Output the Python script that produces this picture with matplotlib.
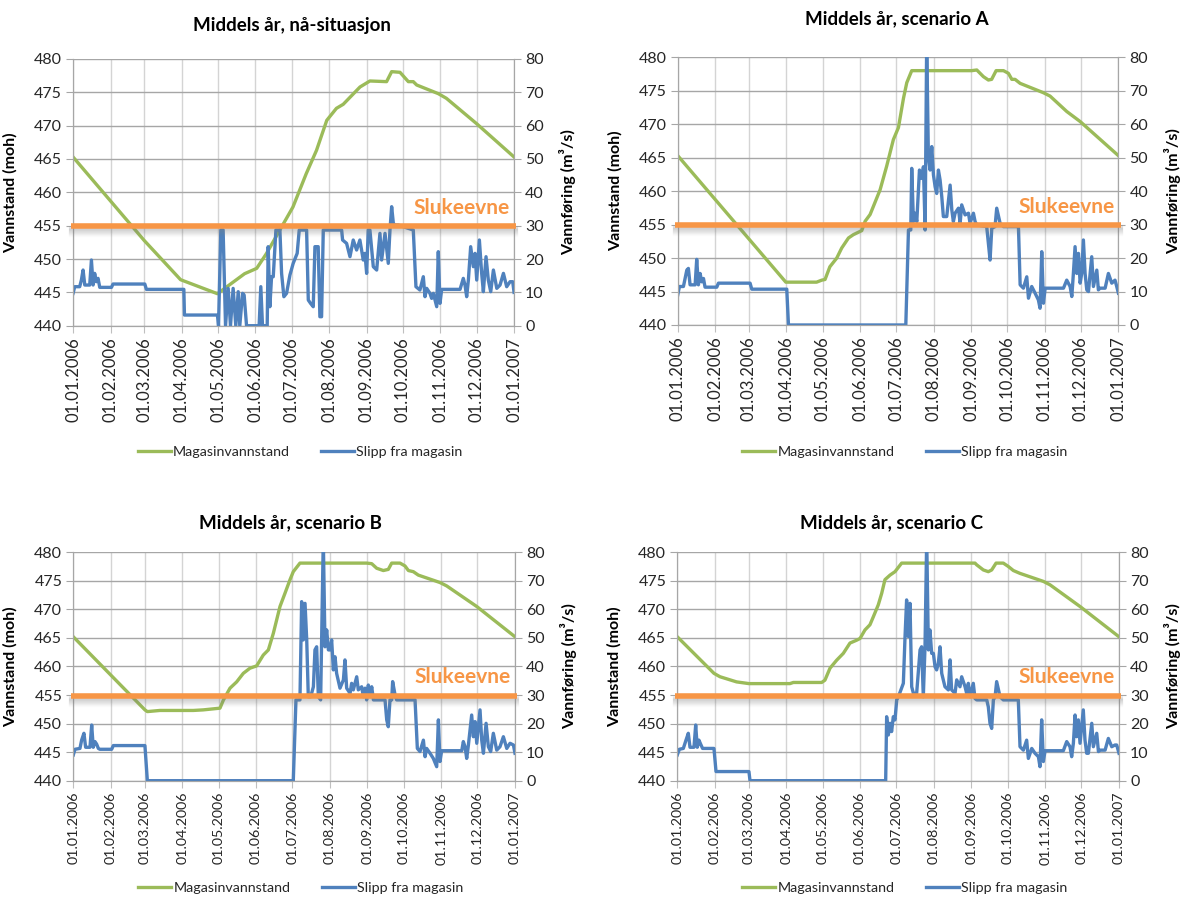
import matplotlib
matplotlib.use("Agg")
import matplotlib.pyplot as plt
import matplotlib.transforms as mtransforms

plt.rcParams['font.family'] = ['Lato', 'DejaVu Sans']

# ---------------- data ----------------
month_days = [0, 31, 59, 90, 120, 151, 181, 212, 243, 273, 304, 334, 365]
month_labels = ["01.01.2006", "01.02.2006", "01.03.2006", "01.04.2006", "01.05.2006",
                "01.06.2006", "01.07.2006", "01.08.2006", "01.09.2006", "01.10.2006",
                "01.11.2006", "01.12.2006", "01.01.2007"]
titles = ["Middels år, nå-situasjon", "Middels år, scenario A",
          "Middels år, scenario B", "Middels år, scenario C"]
series_names = ["Magasinvannstand", "Slipp fra magasin"]
slukeevne_label = "Slukeevne"
slukeevne_flow = 29.8
left_ticks = [440, 445, 450, 455, 460, 465, 470, 475, 480]
right_ticks = [0, 10, 20, 30, 40, 50, 60, 70, 80]

# Panel 1: nå-situasjon
p1_green_day = [0, 58.8, 89, 119.5, 127, 142, 152, 160, 171, 182, 193, 201.5, 210, 218, 223.6,
                237.5, 245.7, 259.5, 263.7, 270.6, 277.5, 281.6, 284.4, 302.3, 309, 334, 365]
p1_green_moh = [465.3, 452.8, 446.9, 444.8, 445.8, 447.8, 448.6, 450.8, 454.3, 457.8, 462.8, 466.3,
                470.8, 472.6, 473.2, 475.8, 476.7, 476.6, 478.1, 478.0, 476.6, 476.6, 476.1, 474.8,
                474.1, 470.3, 465.3]
p1_blue_day = [0, 1.4, 5.5, 6.9, 8.3, 9.7, 13.8, 15.2, 16.6, 17.9, 19.3, 20.7, 22.1, 31.8, 33.1,
               59.4, 60.7, 91.7, 92.2, 119.5, 120.4, 122.3, 124.2, 126.2, 128.4, 130.3, 132.5,
               134.7, 136.7, 138, 140.3, 141.6, 143.6, 154, 155.4, 156.8, 160.7, 161.5, 162.9,
               164.3, 165.7, 167.9, 171.2, 172.6, 174.5, 176.7, 179.5, 182.2, 185.5, 187.2, 193.3,
               194.7, 196.6, 198.8, 200.2, 202.9, 204.3, 205.7, 207.1, 222.3, 223.1, 226.4, 229.2,
               231.9, 234.7, 237.4, 240.2, 241.6, 243, 244.3, 245.7, 248.5, 251.3, 254, 255.4,
               258.2, 260.9, 262.3, 263.7, 265.1, 266.4, 269.2, 281.6, 283.8, 287.1, 289.9, 291.3,
               292.7, 295.4, 296.8, 298.2, 301, 302.3, 303.7, 305.1, 320.3, 323, 324.4, 325.8,
               327.2, 329.1, 331.3, 332.7, 334.1, 336.3, 338.2, 339.6, 341.8, 343.7, 345.7, 347.9,
               350.7, 353.4, 356.2, 358.9, 361.7, 363.9, 365]
p1_blue_flow = [9.7, 11.7, 11.7, 13.7, 16.7, 12.2, 12.2, 19.7, 12.2, 15.7, 13.2, 14.2, 11.5, 11.5,
                12.5, 12.5, 10.9, 10.9, 3.2, 3.2, 0, 28.7, 28.7, 0, 11.2, 0, 11.2, 0, 10.2, 0, 9.7,
                9.2, 0, 0, 11.7, 0, 0, 23.7, 5.7, 14.7, 14.7, 28.7, 28.7, 15.7, 8.7, 9.7, 15.2,
                18.7, 21.7, 28.7, 28.7, 7.7, 6.7, 5.7, 23.7, 23.7, 2.7, 2.7, 28.7, 28.7, 25.7,
                24.7, 20.7, 25.7, 22.7, 25.7, 19.7, 21.7, 15.7, 28.7, 28.7, 17.7, 16.7, 27.7, 19.7,
                27.7, 18.7, 28.7, 35.7, 30.7, 30.2, 30.2, 28.7, 11.7, 10.7, 14.7, 8.7, 11.2, 9.7,
                8.2, 9.7, 5.7, 22.2, 6.7, 10.9, 10.9, 14.2, 12.2, 8.7, 13.7, 23.7, 17.7, 21.7,
                13.7, 25.7, 15.7, 10.2, 20.7, 13.7, 10.2, 16.7, 11.2, 12.2, 15.7, 11.7, 13.2, 13.2,
                10.0]

# Panel 2: scenario A
p2_green_day = [0, 89.5, 115, 119.3, 122, 126, 131.7, 135.8, 141.4, 145.5, 152.4, 155.2, 159.3,
                162, 167.6, 173, 178.6, 182.8, 187, 189.7, 193.8, 243.5, 247.7, 253.2, 257.3,
                260, 263.7, 269.8, 273.9, 276.7, 279.4, 283.6, 302.9, 308.4, 322.2, 333.3, 365]
p2_green_moh = [465.3, 446.4, 446.4, 446.7, 446.8, 448.7, 450.0, 451.5, 453.0, 453.5, 454.1, 455.5,
                456.5, 457.7, 460.2, 463.7, 467.7, 469.5, 473.9, 476.2, 478.0, 478.0, 478.1, 477.1,
                476.6, 476.7, 478.0, 478.0, 477.6, 476.7, 476.7, 476.1, 474.7, 474.2, 471.9, 470.4,
                465.3]
p2_blue_day = [0, 1.4, 4.7, 7.5, 8.8, 10.2, 14.4, 15.7, 17.1, 18.5, 19.9, 21.3, 22.6, 32.3, 33.7,
               59.9, 61.3, 90.3, 91.7, 188.9, 191.1, 193, 193.8, 195.2, 196.6, 198, 200.2, 202.1,
               203.5, 204.9, 206.2, 207.6, 209, 210.4, 211.8, 213.2, 214.5, 215.9, 217.3, 218.7,
               220, 222.8, 225.6, 227, 228.3, 229.7, 232.5, 233.9, 235.2, 238, 240.8, 242.1,
               244.9, 246.3, 247.7, 255.9, 257.3, 258.7, 260.1, 262.8, 264.2, 267, 269.8, 282.2,
               283.6, 286.3, 289.1, 290.5, 293.2, 296, 298.7, 300.1, 301.5, 302.9, 304.3, 319.5,
               322.2, 325, 326.4, 327.7, 329.1, 330.5, 331.9, 333.3, 334.6, 336, 337.4, 338.8,
               340.2, 342.9, 344.3, 347.1, 348.4, 349.8, 354, 356.7, 359.5, 362.2, 363.6, 365]
p2_blue_flow = [9.0, 11.5, 11.5, 16.4, 16.9, 12.0, 12.0, 19.6, 12.0, 15.4, 12.9, 13.9, 11.3, 11.3,
                12.5, 12.5, 10.7, 10.7, 0, 0, 28.4, 28.4, 46.8, 30.9, 33.4, 30.9, 46.3, 43.8, 47.3,
                28.4, 85, 50.3, 46.3, 53.3, 44.8, 41.3, 39.3, 46.3, 43.3, 38.3, 32.4, 32.4, 41.8,
                34.4, 30.9, 33.4, 34.9, 30.4, 35.9, 32.9, 33.4, 30.4, 33.4, 30.9, 29.9, 29.4, 24.4,
                19.4, 28.9, 29.4, 34.9, 30.4, 29.4, 29.4, 12.0, 11.0, 14.4, 8.0, 11.5, 9.5, 7.5,
                5.0, 21.9, 6.5, 11.0, 11.0, 13.4, 11.5, 8.5, 15.4, 23.4, 15.4, 21.4, 12.5, 15.4,
                25.4, 15.4, 10.5, 10.0, 20.4, 11.5, 16.4, 10.5, 11.0, 11.0, 15.4, 12.5, 13.4, 11.5,
                9.5]

# Panel 3: scenario B
p3_green_day = [0, 59.2, 61.2, 71.6, 99.2, 107.4, 121.2, 124, 129.5, 135, 140.5, 146, 151.5, 157,
                161.2, 165.3, 170.8, 174.9, 179.1, 181.8, 187.3, 242.4, 246.6, 250.7, 256.2, 260.3,
                263.1, 270, 274.1, 276.9, 281, 285.1, 303, 308.6, 333.4, 365]
p3_green_moh = [465.2, 452.4, 452.1, 452.3, 452.3, 452.4, 452.7, 454.1, 456.2, 457.3, 458.8, 459.7,
                460.1, 462.0, 462.9, 465.8, 470.5, 472.8, 475.2, 476.6, 478.1, 478.1, 478.0, 477.2,
                476.8, 477.0, 478.1, 478.1, 477.6, 476.8, 476.6, 476.0, 474.7, 474.1, 470.5, 465.2]
p3_blue_day = [0, 1.4, 5.5, 6.9, 8.8, 10.2, 13.8, 15.2, 16.5, 17.9, 19.3, 20.7, 22, 31.7, 33.1,
               59.2, 61.2, 181.8, 184, 187.3, 188.7, 190.1, 191.5, 192.9, 194.2, 196.2, 198.4,
               199.7, 201.1, 202.5, 204.4, 206.6, 208, 209.4, 210.8, 212.1, 213.5, 214.9, 216.3,
               217.6, 220.4, 223.2, 224.5, 225.9, 228.7, 230, 231.4, 234.2, 235.5, 238.3, 239.7,
               241.1, 242.4, 243.8, 245.2, 246.6, 248, 257.6, 259, 260.3, 261.7, 263.1, 263.9,
               265.9, 267.2, 282.4, 284.3, 286.5, 289.3, 290.7, 292, 294.8, 297.5, 300.3, 301.7,
               303, 304.4, 321, 322.3, 323.7, 325.1, 326.5, 329.2, 330.6, 332, 333.4, 336.1, 337.5,
               338.9, 341.1, 343, 344.9, 347.1, 349.9, 352.6, 355.4, 358.2, 360.9, 363.7, 365]
p3_blue_flow = [9.0, 11.0, 11.3, 14.2, 16.6, 11.7, 11.7, 19.5, 11.7, 13.7, 12.8, 11.3, 11.0, 11.0,
                12.3, 12.3, 0, 0, 28.3, 28.3, 62.7, 49.3, 62.1, 49.3, 29.4, 29.4, 32.9, 45.8, 46.9,
                29.4, 28.3, 85, 46.9, 52.8, 45.8, 45.8, 49.3, 38.8, 43.4, 37.6, 32.4, 35.3, 42.3,
                32.4, 30.6, 34.1, 31.8, 36.4, 31.8, 32.9, 29.4, 32.4, 28.3, 33.5, 29.4, 32.9, 28.3,
                28.3, 21.3, 18.9, 28.3, 28.3, 34.7, 30.0, 28.3, 28.3, 11.3, 10.2, 14.2, 8.4, 11.3,
                9.6, 7.8, 4.9, 21.3, 6.7, 10.5, 10.5, 13.7, 11.9, 7.8, 12.5, 23.0, 15.4, 20.7,
                13.1, 24.8, 14.2, 9.6, 20.1, 11.9, 10.2, 16.6, 10.7, 11.9, 15.4, 11.3, 13.1, 12.5,
                9.6]

# Panel 4: scenario C
p4_green_day = [0, 30.3, 35.3, 49, 59.2, 93.1, 95.9, 119.3, 122, 126.2, 131.7, 137.2, 142.7, 148.2,
                151, 155.1, 159.2, 162, 166.1, 168.9, 171.6, 175.8, 179.9, 185.4, 246, 247.4,
                252.9, 257, 259.8, 263.4, 269.4, 273.6, 277.7, 283.2, 302.5, 308, 332.8, 365]
p4_green_moh = [465.2, 458.8, 458.2, 457.3, 457.0, 457.0, 457.2, 457.2, 457.6, 459.7, 461.1, 462.3,
                464.1, 464.6, 464.9, 466.4, 467.3, 468.7, 470.8, 472.8, 475.2, 476.0, 476.6, 478.1,
                478.1, 477.8, 476.9, 476.6, 476.9, 478.1, 478.1, 477.5, 476.8, 476.3, 474.9, 474.3,
                470.5, 465.2]
p4_blue_day = [0, 1.7, 5, 7.2, 9.1, 10.5, 13.8, 15.2, 16.5, 17.9, 19.3, 20.9, 30.3, 32, 59.2, 60.1,
               172.2, 173, 174.4, 175.8, 177.1, 178.5, 179.9, 181.3, 182.7, 186.8, 188.2, 189.5,
               190.9, 192.3, 193.7, 195.1, 197.8, 200.6, 201.9, 203.3, 204.7, 206.1, 207.5, 208.8,
               210.2, 211.6, 213, 214.3, 215.7, 217.1, 218.5, 219.8, 221.2, 224, 225.4, 226.7,
               229.5, 230.9, 233.6, 235, 237.8, 239.1, 240.5, 241.9, 244.6, 246, 247.4, 255.7, 257,
               258.4, 259.8, 261.2, 262.6, 263.9, 266.7, 269.4, 281.8, 283.2, 286, 288.7, 290.1,
               292.9, 295.6, 298.4, 299.7, 301.1, 302.5, 303.9, 319, 321.8, 324.5, 325.9, 327.3,
               328.7, 330, 331.4, 332.8, 335.5, 336.9, 338.3, 339.7, 342.5, 343.8, 346.6, 348,
               349.3, 353.5, 356.2, 359, 361.7, 363.1, 365]
p4_blue_flow = [9.0, 11.0, 11.3, 14.2, 16.6, 11.7, 11.7, 19.5, 11.7, 14.2, 12.8, 11.3, 11.3, 3.2,
                3.2, 0, 0, 22.4, 16.0, 20.1, 17.2, 22.4, 21.3, 28.3, 29.4, 34.1, 50.5, 63.3, 50.5,
                62.1, 32.9, 30.6, 30.6, 45.8, 46.9, 29.4, 46.9, 85, 45.8, 52.8, 44.6, 44.6, 39.9,
                38.8, 41.1, 46.9, 37.6, 35.3, 32.9, 31.8, 42.3, 31.8, 30.6, 35.3, 32.9, 36.4, 32.9,
                30.6, 34.1, 29.4, 34.1, 28.8, 28.3, 28.3, 25.9, 20.1, 18.3, 28.3, 29.4, 34.7, 29.4,
                28.3, 28.3, 11.9, 10.7, 14.2, 7.8, 11.3, 9.6, 8.4, 4.9, 21.3, 6.7, 10.5, 10.5,
                13.7, 11.9, 8.4, 13.1, 23.0, 15.4, 21.3, 13.1, 24.8, 14.2, 9.6, 9.6, 20.1, 11.9,
                16.6, 10.2, 10.7, 10.7, 14.8, 11.9, 12.5, 12.5, 9.6]

panels = [
    (p1_green_day, p1_green_moh, p1_blue_day, p1_blue_flow),
    (p2_green_day, p2_green_moh, p2_blue_day, p2_blue_flow),
    (p3_green_day, p3_green_moh, p3_blue_day, p3_blue_flow),
    (p4_green_day, p4_green_moh, p4_blue_day, p4_blue_flow),
]

# ---------------- style / layout ----------------
GREEN = '#9BBB59'
BLUE = '#4F81BD'
ORANGE = '#F79646'
TXT = '#262626'

axes_rects = [
    [0.0618, 0.6377, 0.3731, 0.2967],
    [0.5734, 0.6385, 0.3728, 0.2978],
    [0.0620, 0.1316, 0.3737, 0.2541],
    [0.5730, 0.1316, 0.3737, 0.2541],
]
title_pos = [(0.247, 0.972), (0.759, 0.979), (0.246, 0.419), (0.754, 0.419)]
xlabel_size = [12, 12, 10.3, 10.3]
legend_y = [-0.475, -0.475, -0.47, -0.47]

fig = plt.figure(figsize=(11.82, 8.99), dpi=100)

for i, (gd, gv, bd, bv) in enumerate(panels):
    ax = fig.add_axes(axes_rects[i])
    ax2 = ax.twinx()

    ax.set_xlim(month_days[0], month_days[-1])
    ax.set_ylim(left_ticks[0], left_ticks[-1])
    ax2.set_ylim(right_ticks[0], right_ticks[-1])
    ax.set_yticks(left_ticks)
    ax2.set_yticks(right_ticks)
    ax.set_xticks(month_days)
    ax.set_xticklabels(month_labels, rotation=90, fontsize=xlabel_size[i], color=TXT)
    ax.tick_params(axis='y', labelsize=11.5, labelcolor=TXT, color='#a6a6a6', length=5, pad=3)
    ax.tick_params(axis='x', color='#bfbfbf', length=5, pad=3)
    ax2.tick_params(axis='y', labelsize=11.5, labelcolor=TXT, color='#a6a6a6', length=5, pad=3)

    ax.grid(axis='y', color='#a6a6a6', linewidth=1.0)
    ax.grid(axis='x', color='#d4d4d4', linewidth=1.0)
    ax.set_axisbelow(True)
    for a in (ax, ax2):
        a.spines['top'].set_visible(False)
        for s in ('left', 'right', 'bottom'):
            a.spines[s].set_color('#a6a6a6')

    lg, = ax.plot(gd, gv, color=GREEN, linewidth=2.4, solid_joinstyle='round')
    lb, = ax2.plot(bd, bv, color=BLUE, linewidth=2.4, solid_joinstyle='round')

    # soft shadow under the Slukeevne line
    for k in range(1, 9):
        tr = mtransforms.offset_copy(ax2.transData, fig=fig, x=0, y=-k - 1, units='dots')
        ax2.plot([month_days[0] - 2, month_days[-1] + 2], [slukeevne_flow, slukeevne_flow],
                 color='gray', alpha=0.13 * (1 - k / 10), linewidth=3, transform=tr,
                 clip_on=False, zorder=5)
    ax2.plot([month_days[0] - 2, month_days[-1] + 2], [slukeevne_flow, slukeevne_flow],
             color=ORANGE, linewidth=4, clip_on=False, zorder=6, solid_capstyle='butt')
    ax2.annotate(slukeevne_label, xy=(month_days[-1], slukeevne_flow), xytext=(-3, 6),
                 textcoords='offset points', ha='right', va='bottom', color=ORANGE,
                 fontsize=15, fontweight='bold', zorder=7)

    ax.set_ylabel("Vannstand (moh)", fontsize=11.5, fontweight='bold', color='black')
    ax2.set_ylabel("Vannføring (m³/s)", fontsize=11.5, fontweight='bold', color='black')
    ax.yaxis.set_label_coords(-0.125, 0.5)
    ax2.yaxis.set_label_coords(1.103, 0.5)

    fig.text(title_pos[i][0], title_pos[i][1], titles[i], ha='center', va='center',
             fontsize=13.5, fontweight='bold', color='black')

    ax.legend([lg, lb], series_names, loc='center', bbox_to_anchor=(0.515, legend_y[i]),
              ncol=2, frameon=False, fontsize=10.3, handlelength=2.3, columnspacing=2.2,
              handletextpad=0.15, labelcolor=TXT)

fig.savefig("out.png", dpi=100)
